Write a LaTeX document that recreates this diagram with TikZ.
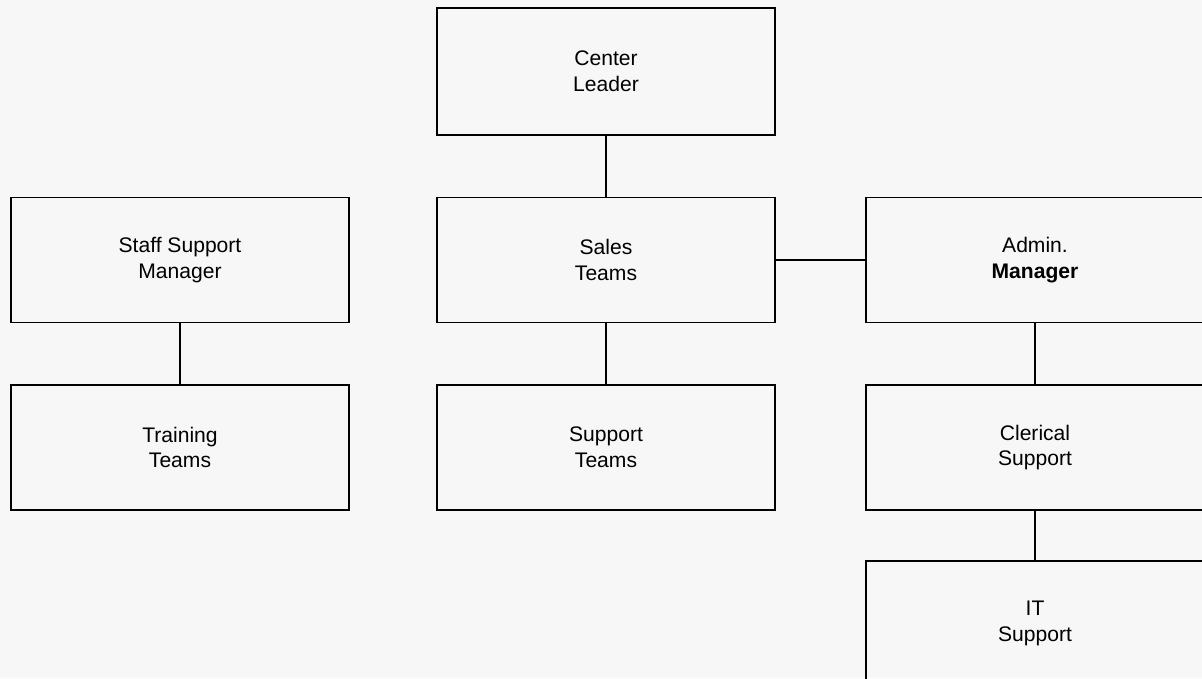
\documentclass[tikz,border=0pt]{standalone}
\usepackage{fontspec}
\setmainfont{Liberation Sans}
\usetikzlibrary{positioning}

\definecolor{paper}{RGB}{247,247,247}

\begin{document}
\begin{tikzpicture}[node distance=1.25cm and 1.82cm,
    box/.style={rectangle, draw, line width=1pt, minimum width=6.76cm, minimum height=2.5cm, align=center, outer sep=0pt, font=\fontsize{12}{14.7}\selectfont},
    link/.style={line width=1pt}]
  \useasboundingbox[fill=paper] (0,0) rectangle (24.04,-13.56);
  \clip (0,0) rectangle (24.04,-13.56);
  \node[box, minimum height=2.54cm] (lead) at (12.12,-1.43) {Center\\Leader};
  \node[box, below=of lead] (sales) {Sales\\Teams};
  \node[box, left=1.76cm of sales] (staff) {Staff Support\\Manager};
  \node[box, right=of sales] (admin) {Admin.\\\textbf{Manager}};
  \node[box, below=of staff] (train) {Training\\Teams};
  \node[box, below=of sales] (supp) {Support\\Teams};
  \node[box, below=of admin] (cler) {Clerical\\Support};
  \node[box, below=1.02cm of cler] (it) {IT\\Support};
  \draw[link] (lead) -- (sales);
  \draw[link] (sales) -- (admin);
  \draw[link] (staff) -- (train);
  \draw[link] (sales) -- (supp);
  \draw[link] (admin) -- (cler);
  \draw[link] (cler) -- (it);
\end{tikzpicture}
\end{document}
